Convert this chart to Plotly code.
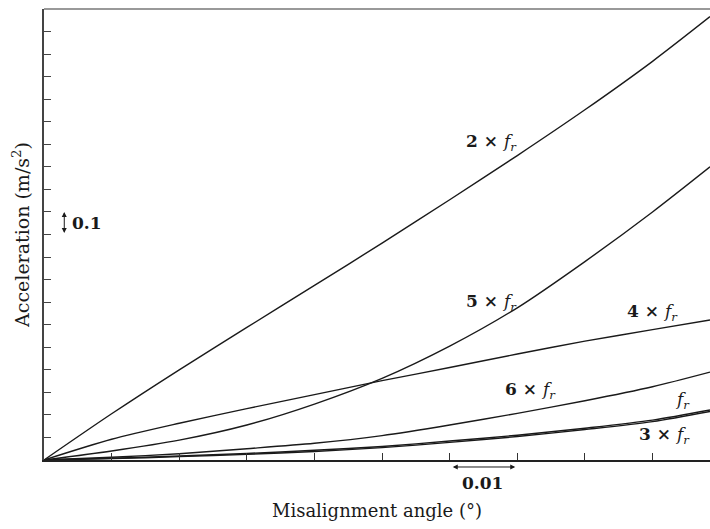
import plotly.graph_objects as go

angle = [0, 0.01, 0.02, 0.03, 0.04, 0.05, 0.06, 0.07, 0.08, 0.09, 0.0985]
acc_2x = [0, 0.205, 0.40, 0.588, 0.774, 0.962, 1.154, 1.35, 1.553, 1.768, 1.966]
acc_4x = [0, 0.092, 0.163, 0.228, 0.29, 0.352, 0.41, 0.47, 0.527, 0.578, 0.621]
acc_5x = [0, 0.04, 0.088, 0.155, 0.248, 0.362, 0.505, 0.675, 0.88, 1.10, 1.30]
acc_6x = [0, 0.012, 0.028, 0.05, 0.074, 0.108, 0.155, 0.207, 0.263, 0.325, 0.39]
acc_1x = [0, 0.008, 0.018, 0.029, 0.043, 0.06, 0.084, 0.11, 0.141, 0.177, 0.222]
acc_3x = [0, 0.006, 0.015, 0.025, 0.038, 0.055, 0.078, 0.104, 0.135, 0.17, 0.215]

series = [("2×fr", acc_2x), ("4×fr", acc_4x), ("5×fr", acc_5x),
          ("6×fr", acc_6x), ("fr", acc_1x), ("3×fr", acc_3x)]

x_ticks = [0.01 * i for i in range(1, 10)]
y_ticks = [0.1 * i for i in range(1, 20)]

FONT = "DejaVu Serif"
INK = "#1a1a1a"

fig = go.Figure()
for name, ys in series:
    fig.add_trace(go.Scatter(x=angle, y=ys, mode="lines", name=name,
                             line=dict(color=INK, width=1.4, shape="spline", smoothing=0.8),
                             showlegend=False, hoverinfo="skip"))

def lab(prefix):
    if prefix:
        return "<b>%s × </b><i>f</i><sub><i>r</i></sub>" % prefix
    return "<i>f</i><sub><i>r</i></sub>"

labels = [
    ("2", 0.0662, 1.41),
    ("5", 0.0662, 0.70),
    ("4", 0.0900, 0.655),
    ("6", 0.0720, 0.31),
    ("", 0.0945, 0.262),
    ("3", 0.0917, 0.108),
]
annotations = []
for p, x, y in labels:
    annotations.append(dict(x=x, y=y, xref="x", yref="y", text=lab(p), showarrow=False,
                            font=dict(family=FONT, size=17, color=INK)))

# vertical scale arrow (0.1)
annotations.append(dict(x=0.003, y=1.1, xref="x", yref="y", ax=0.003, ay=1.0, axref="x", ayref="y",
                        text="", showarrow=True, arrowhead=2, arrowside="end+start",
                        arrowsize=1, arrowwidth=1, arrowcolor=INK))
annotations.append(dict(x=0.0038, y=1.05, xref="x", yref="y", text="<b>0.1</b>", showarrow=False,
                        xanchor="left", yanchor="middle", font=dict(family=FONT, size=17, color=INK)))
# horizontal scale arrow (0.01) below the axis
annotations.append(dict(x=0.0697, y=-0.0155, xref="x", yref="paper", ax=-64, ay=0,
                        text="", showarrow=True, arrowhead=2, arrowside="end+start",
                        arrowsize=1, arrowwidth=1, arrowcolor=INK))
annotations.append(dict(x=0.0648, y=-0.051, xref="x", yref="paper", text="<b>0.01</b>", showarrow=False,
                        xanchor="center", yanchor="middle", font=dict(family=FONT, size=17, color=INK)))

fig.update_layout(
    width=710, height=529,
    margin=dict(l=44, r=0, t=9, b=69),
    paper_bgcolor="white", plot_bgcolor="white",
    font=dict(family=FONT, size=18, color=INK),
    annotations=annotations,
    shapes=[dict(type="line", xref="paper", yref="paper", x0=0, x1=1, y0=1, y1=1,
                 line=dict(color="#777777", width=1.5))],
    xaxis=dict(range=[0, 0.0985], tickvals=x_ticks, showticklabels=False,
               ticks="inside", ticklen=7, tickcolor="#333333", tickwidth=1,
               showline=True, linecolor="#222222", linewidth=1.5,
               showgrid=False, zeroline=False,
               title=dict(text="Misalignment angle (°)", standoff=44,
                          font=dict(family=FONT, size=18))),
    yaxis=dict(range=[0, 2.0], tickvals=y_ticks, showticklabels=False,
               ticks="inside", ticklen=7, tickcolor="#444444", tickwidth=1,
               showline=True, linecolor="#444444", linewidth=1.5,
               showgrid=False, zeroline=False,
               title=dict(text="Acceleration (m/s<sup>2</sup>)", standoff=8,
                          font=dict(family=FONT, size=19))),
)

fig.write_html("out.html")
